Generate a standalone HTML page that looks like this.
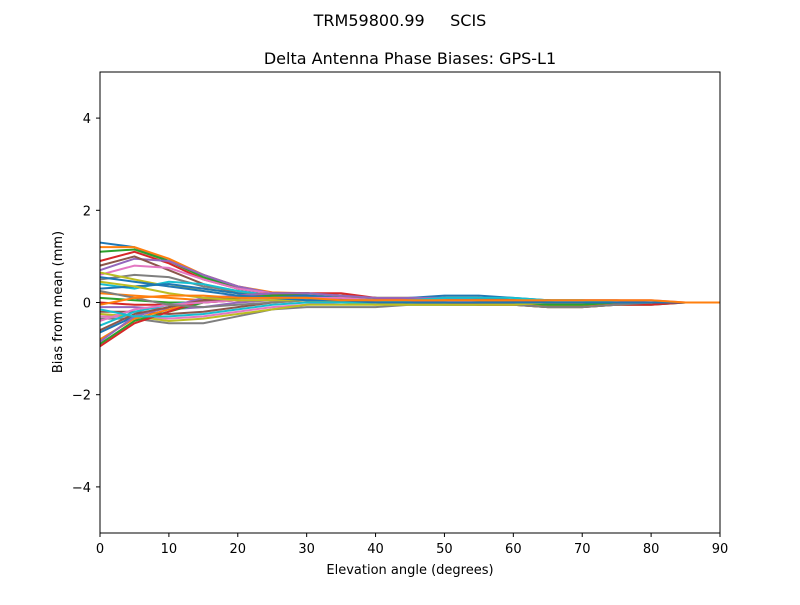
<!DOCTYPE html>
<html><head><meta charset="utf-8"><style>
body{margin:0;background:#fff;}
svg text{font-family:"DejaVu Sans","Liberation Sans",sans-serif;}
</style></head><body>
<svg id="chart" width="800" height="600" xmlns="http://www.w3.org/2000/svg">
<rect width="800" height="600" fill="#fff"/>
<text x="400" y="26" text-anchor="middle" font-size="16" style="white-space:pre" xml:space="preserve">TRM59800.99     SCIS</text>
<text x="410" y="64" text-anchor="middle" font-size="16">Delta Antenna Phase Biases: GPS-L1</text>
<g id="plot"></g>
<rect x="100" y="72" width="620" height="461" fill="none" stroke="#000" stroke-width="1"/>
<g id="axes"></g>
<text x="410" y="574" text-anchor="middle" font-size="13">Elevation angle (degrees)</text>
<text transform="translate(62,302) rotate(-90)" text-anchor="middle" font-size="13">Bias from mean (mm)</text>
</svg>
<script>
const elevations=[0,5,10,15,20,25,30,35,40,45,50,55,60,65,70,75,80,85,90];
const xTicks=[0,10,20,30,40,50,60,70,80,90];
const yTicks=[-4,-2,0,2,4];
const yTickLabels=["\u22124","\u22122","0","2","4"];
const s1=[1.3,1.2,0.9,0.6,0.3,0.2,0.2,0.15,0.1,0.05,0.0,-0.05,-0.05,-0.05,-0.05,-0.03,0.0,0.0,0.0];
const s2=[1.2,1.2,0.95,0.6,0.35,0.22,0.2,0.15,0.1,0.1,0.05,0.0,-0.05,-0.05,-0.05,-0.03,0.0,0.0,0.0];
const s3=[1.1,1.15,0.9,0.55,0.3,0.2,0.2,0.15,0.1,0.1,0.1,0.05,0.0,-0.05,-0.05,-0.03,0.0,0.0,0.0];
const s4=[0.9,1.1,0.85,0.5,0.3,0.2,0.15,0.1,0.05,0.05,0.05,0.05,0.0,0.0,-0.05,-0.03,0.0,0.0,0.0];
const s5=[0.7,0.95,0.9,0.6,0.35,0.2,0.15,0.1,0.05,0.05,0.1,0.05,0.0,0.0,-0.05,0.0,0.0,0.0,0.0];
const s6=[0.8,1.0,0.7,0.4,0.2,0.15,0.1,0.1,0.05,0.0,0.0,0.0,-0.05,-0.05,0.0,0.0,0.0,0.0,0.0];
const s7=[0.6,0.8,0.75,0.5,0.3,0.2,0.15,0.1,0.05,0.05,0.05,0.0,0.0,0.0,0.0,0.0,0.0,0.0,0.0];
const s8=[0.5,0.6,0.55,0.35,0.25,0.15,0.1,0.05,0.0,0.0,0.05,0.05,0.05,0.0,0.0,0.0,0.0,0.0,0.0];
const s9=[0.65,0.5,0.35,0.3,0.2,0.15,0.1,0.05,0.0,0.05,0.1,0.1,0.05,0.0,-0.05,-0.05,0.0,0.0,0.0];
const s10=[0.4,0.3,0.45,0.4,0.25,0.15,0.15,0.1,0.05,0.05,0.1,0.1,0.05,0.05,0.0,0.0,0.0,0.0,0.0];
const s11=[0.3,0.35,0.4,0.3,0.2,0.1,0.1,0.05,0.05,0.05,0.05,0.05,0.0,0.0,0.0,0.0,0.0,0.0,0.0];
const s12=[0.2,0.15,0.1,0.05,0.05,0.05,0.05,0.0,0.0,0.05,0.1,0.1,0.05,0.0,0.0,0.0,0.0,0.0,0.0];
const s13=[0.1,0.05,0.0,0.0,0.05,0.1,0.1,0.05,0.0,-0.05,-0.05,-0.05,-0.05,-0.1,-0.1,-0.05,-0.05,0.0,0.0];
const s14=[0.0,-0.05,-0.05,0.0,0.05,0.1,0.1,0.05,0.0,0.0,0.05,0.1,0.05,0.0,-0.05,-0.05,0.0,0.0,0.0];
const s15=[-0.1,-0.1,-0.15,-0.1,0.0,0.05,0.05,0.05,0.0,0.0,0.05,0.05,0.0,0.0,0.0,0.0,0.0,0.0,0.0];
const s16=[-0.2,-0.2,-0.25,-0.2,-0.1,0.0,0.05,0.05,0.0,0.0,0.0,0.0,0.0,-0.05,-0.05,0.0,0.0,0.0,0.0];
const s17=[-0.3,-0.3,-0.35,-0.3,-0.2,-0.1,-0.05,0.0,0.0,0.0,0.0,-0.05,-0.05,-0.05,-0.05,0.0,0.0,0.0,0.0];
const s18=[-0.35,-0.35,-0.45,-0.45,-0.3,-0.15,-0.1,-0.1,-0.1,-0.05,-0.05,-0.05,-0.05,-0.05,-0.05,-0.05,0.0,0.0,0.0];
const s19=[-0.25,-0.3,-0.4,-0.35,-0.25,-0.15,-0.05,-0.05,-0.05,0.0,0.0,0.0,-0.05,-0.05,-0.05,-0.05,0.0,0.0,0.0];
const s20=[-0.5,-0.2,-0.05,0.05,0.1,0.15,0.15,0.1,0.05,0.05,0.05,0.05,0.0,0.0,0.0,0.0,0.0,0.0,0.0];
const s21=[-0.65,-0.3,-0.1,0.05,0.1,0.15,0.15,0.1,0.05,0.1,0.15,0.15,0.1,0.05,0.0,0.0,0.0,0.0,0.0];
const s22=[-0.8,-0.35,-0.15,0.05,0.15,0.2,0.2,0.15,0.1,0.05,0.05,0.05,0.0,-0.05,-0.05,-0.05,0.0,0.0,0.0];
const s23=[-0.9,-0.4,-0.2,0.0,0.1,0.15,0.2,0.15,0.1,0.05,0.05,0.0,0.0,-0.05,-0.05,0.0,0.0,0.0,0.0];
const s24=[-0.95,-0.45,-0.2,0.05,0.15,0.2,0.2,0.2,0.1,0.05,0.0,-0.05,-0.05,-0.1,-0.1,-0.05,-0.05,0.0,0.0];
const s25=[-0.85,-0.3,-0.1,0.1,0.15,0.2,0.2,0.15,0.1,0.1,0.1,0.05,0.05,0.0,0.0,0.0,0.0,0.0,0.0];
const s26=[-0.6,-0.25,-0.1,0.05,0.05,0.1,0.1,0.1,0.05,0.05,0.05,0.05,0.05,0.05,0.05,0.05,0.0,0.0,0.0];
const s27=[-0.4,-0.15,-0.05,0.0,0.05,0.1,0.1,0.1,0.05,0.05,0.05,0.0,0.0,0.0,0.05,0.05,0.05,0.0,0.0];
const s28=[0.25,0.1,-0.05,-0.1,-0.05,0.0,0.05,0.05,0.05,0.0,-0.05,-0.05,-0.05,-0.1,-0.1,-0.05,0.0,0.0,0.0];
const s29=[0.45,0.35,0.2,0.1,0.05,0.05,0.05,0.0,-0.05,-0.05,-0.05,-0.05,-0.05,0.0,0.0,0.0,0.0,0.0,0.0];
const s30=[-0.15,-0.3,-0.3,-0.25,-0.15,-0.05,0.0,0.0,0.0,0.05,0.1,0.1,0.1,0.05,0.05,0.0,0.0,0.0,0.0];
const s31=[0.55,0.45,0.35,0.25,0.15,0.1,0.05,0.05,0.0,0.0,0.0,0.0,0.0,0.0,0.0,0.0,0.0,0.0,0.0];
const s32=[-0.05,0.1,0.15,0.15,0.1,0.1,0.1,0.05,0.05,0.05,0.05,0.05,0.05,0.05,0.05,0.05,0.05,0.0,0.0];
const series=[s1,s2,s3,s4,s5,s6,s7,s8,s9,s10,s11,s12,s13,s14,s15,s16,s17,s18,s19,s20,s21,s22,s23,s24,s25,s26,s27,s28,s29,s30,s31,s32];
const colors=["#1f77b4","#ff7f0e","#2ca02c","#d62728","#9467bd","#8c564b","#e377c2","#7f7f7f","#bcbd22","#17becf"];
const NS="http://www.w3.org/2000/svg";
const xs=v=>100+(v-0)/90*620;
const ys=v=>533-(v+5)/10*461;
const plot=document.getElementById('plot');
series.forEach((s,i)=>{
  const p=document.createElementNS(NS,'polyline');
  p.setAttribute('points',s.map((v,j)=>xs(elevations[j])+','+ys(v)).join(' '));
  p.setAttribute('fill','none');
  p.setAttribute('stroke',colors[i%10]);
  p.setAttribute('stroke-width','2');
  
  
  plot.appendChild(p);
});
const axes=document.getElementById('axes');
xTicks.forEach(t=>{
  const l=document.createElementNS(NS,'line');
  l.setAttribute('x1',xs(t));l.setAttribute('x2',xs(t));l.setAttribute('y1',533);l.setAttribute('y2',537);l.setAttribute('stroke','#000');
  
  
  axes.appendChild(l);
  const tx=document.createElementNS(NS,'text');
  tx.setAttribute('x',xs(t));tx.setAttribute('y',553);tx.setAttribute('text-anchor','middle');tx.setAttribute('font-size','13');
  tx.textContent=t;
  
  
  axes.appendChild(tx);
});
yTicks.forEach((t,i)=>{
  const l=document.createElementNS(NS,'line');
  l.setAttribute('x1',96);l.setAttribute('x2',100);l.setAttribute('y1',ys(t));l.setAttribute('y2',ys(t));l.setAttribute('stroke','#000');
  
  
  axes.appendChild(l);
  const tx=document.createElementNS(NS,'text');
  tx.setAttribute('x',91);tx.setAttribute('y',ys(t)+5);tx.setAttribute('text-anchor','end');tx.setAttribute('font-size','13');
  tx.textContent=yTickLabels[i];
  
  
  axes.appendChild(tx);
});
</script>
</body></html>
